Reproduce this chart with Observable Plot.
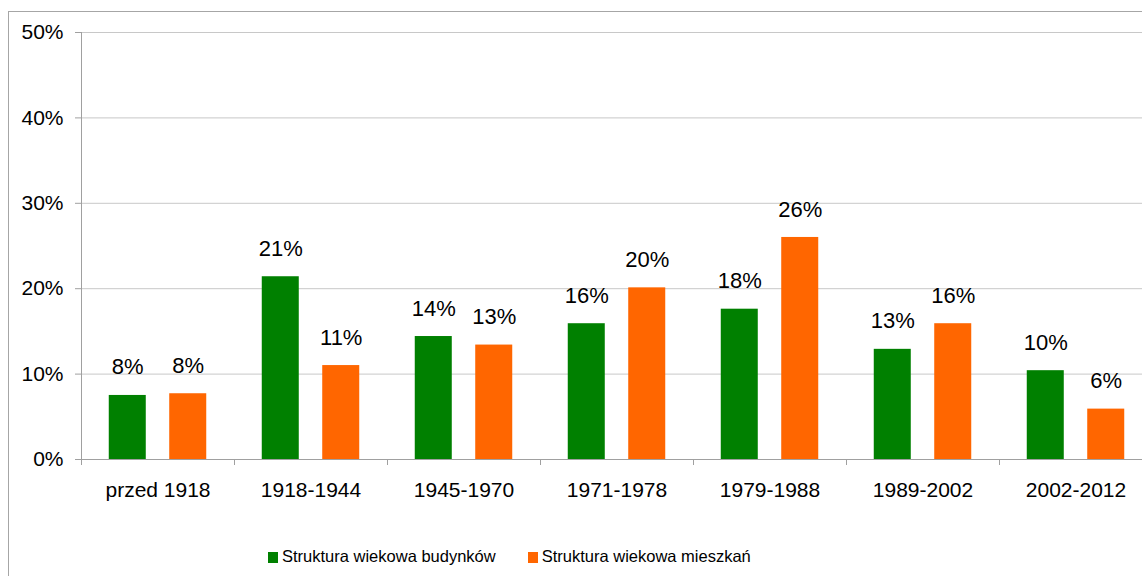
<!DOCTYPE html>
<html>
<head>
<meta charset="utf-8">
<script src="https://cdn.jsdelivr.net/npm/d3@7"></script>
<script src="https://cdn.jsdelivr.net/npm/@observablehq/plot@0.6"></script>
<style>
  html, body { margin: 0; padding: 0; background: #fff; overflow: hidden; width: 1142px; height: 576px; }
  #frame { position: absolute; left: 8px; top: 11px; width: 1300px; height: 800px; border: 1px solid #a6a6a6; box-sizing: border-box; }
  #chart { position: absolute; left: 0; top: 0; width: 1152px; }
  #chart svg { max-width: none !important; }
  #legend { position: absolute; left: 268px; top: 546px; height: 20px; display: flex; align-items: center;
            font-family: "Liberation Sans", Arial, sans-serif; font-size: 16.5px; color: #000; white-space: nowrap; }
  #legend .item { display: flex; align-items: center; margin-right: 32px; }
  #legend .sw { display: inline-block; width: 10px; height: 11px; margin-right: 4px; margin-top: 3px; }
</style>
</head>
<body>
<div id="frame"></div>
<div id="chart"></div>
<div id="legend"></div>
<script>
const categories = ["przed 1918", "1918-1944", "1945-1970", "1971-1978", "1979-1988", "1989-2002", "2002-2012"];
const seriesNames = ["Struktura wiekowa budynków", "Struktura wiekowa mieszkań"];
const budynki = [7.5, 21.4, 14.4, 15.9, 17.6, 12.9, 10.4];
const mieszkania = [7.7, 11.0, 13.4, 20.1, 26.0, 15.9, 5.9];
const yTicks = [0, 10, 20, 30, 40, 50];
const colors = ["#008000", "#ff6600"];

const rows = [];
categories.forEach((c, i) => {
  rows.push({category: c, series: seriesNames[0], value: budynki[i]});
  rows.push({category: c, series: seriesNames[1], value: mieszkania[i]});
});

const W = 1152, H = 520, ML = 81, MR = 0, MT = 32, MB = 61;
const bw = (W - ML - MR) / categories.length;
const axisGray = "#a0a0a0";

const chart = Plot.plot({
  width: W, height: H,
  marginTop: MT, marginBottom: MB, marginLeft: ML, marginRight: MR,
  style: {fontFamily: "Liberation Sans, Arial, sans-serif", background: "transparent", color: "#000", overflow: "visible", maxWidth: "none"},
  fx: {domain: categories, padding: 0, round: false, label: null},
  x: {domain: seriesNames, paddingInner: 0.388, paddingOuter: 0.459, round: false, axis: null},
  y: {domain: [0, 50], axis: null},
  color: {domain: seriesNames, range: colors},
  marks: [
    Plot.gridY(yTicks, {stroke: "#c8c8c8", strokeOpacity: 1}),
    Plot.ruleY([0], {stroke: axisGray}),
    Plot.ruleX([categories[0]], {fx: d => d, x: null, y1: 0, y2: 50, dx: -bw / 2, stroke: axisGray}),
    Plot.barY(rows, {fx: "category", x: "series", y: "value", fill: "series"}),
    Plot.text(rows, {fx: "category", x: "series", y: "value", text: d => Math.round(d.value) + "%",
      lineAnchor: "middle", dy: -28, fontSize: 22, fill: "#000"}),
    Plot.axisY({ticks: yTicks, tickFormat: d => d + "%", tickSize: 6, tickPadding: 12, fontSize: 21,
      stroke: axisGray, fill: "#000", label: null}),
    Plot.axisFx({anchor: "bottom", tickSize: 6, tickFormat: () => "", dx: -bw / 2, stroke: axisGray, label: null}),
    Plot.axisFx({anchor: "bottom", tickSize: 0, tickPadding: 23, fontSize: 21, fill: "#000", label: null})
  ]
});
document.getElementById("chart").appendChild(chart);

const legend = document.getElementById("legend");
seriesNames.forEach((name, i) => {
  const item = document.createElement("span");
  item.className = "item";
  const sw = document.createElement("span");
  sw.className = "sw";
  sw.style.background = colors[i];
  const label = document.createElement("span");
  label.textContent = name;
  item.appendChild(sw);
  item.appendChild(label);
  legend.appendChild(item);
});
</script>
</body>
</html>
